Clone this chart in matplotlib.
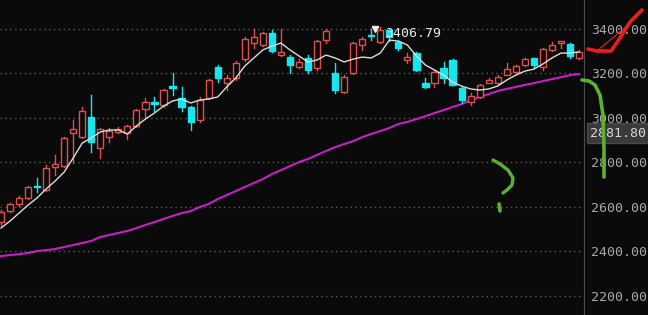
import matplotlib
matplotlib.use('Agg')
import matplotlib.pyplot as plt
import matplotlib.transforms as mtransforms
from matplotlib.patches import Rectangle

# daily candles
opens = [2532, 2581, 2613, 2640, 2695, 2675, 2778, 2783, 2931, 2913,
         3003, 2864, 2913, 2936, 2931, 2963, 3039, 3070, 3057, 3140,
         3088, 3048, 2990, 3088, 3227, 3155, 3178, 3263, 3335, 3326,
         3380, 3281, 3272, 3227, 3268, 3223, 3348, 3200, 3115, 3200,
         3326, 3373, 3340, 3393, 3340, 3259, 3290, 3155, 3155, 3223,
         3259, 3133, 3070, 3093, 3155, 3155, 3191, 3205, 3236, 3268,
         3227, 3304, 3335, 3330, 3268]
closes = [2577, 2613, 2640, 2689, 2691, 2774, 2792, 2909, 2949, 3030,
          2891, 2949, 2940, 2949, 2963, 3034, 3070, 3060, 3124, 3134,
          3048, 2981, 3079, 3169, 3178, 3178, 3245, 3353, 3362, 3380,
          3299, 3295, 3236, 3250, 3214, 3344, 3389, 3124, 3182, 3335,
          3353, 3368, 3393, 3362, 3313, 3272, 3214, 3138, 3205, 3178,
          3147, 3079, 3097, 3147, 3169, 3182, 3218, 3232, 3263, 3236,
          3308, 3326, 3344, 3277, 3295]
highs = [2586, 2618, 2649, 2693, 2729, 2787, 2832, 2913, 2990, 3048,
         3102, 2953, 2954, 2960, 2968, 3039, 3088, 3093, 3130, 3200,
         3138, 3052, 3093, 3175, 3236, 3191, 3255, 3360, 3400, 3385,
         3393, 3400, 3281, 3265, 3281, 3350, 3400, 3245, 3190, 3340,
         3362, 3398, 3406.79, 3398, 3345, 3290, 3295, 3178, 3214, 3250,
         3263, 3138, 3110, 3150, 3178, 3191, 3245, 3236, 3268, 3270,
         3312, 3340, 3346, 3335, 3304]
lows = [2518, 2577, 2604, 2636, 2666, 2670, 2743, 2780, 2797, 2909,
        2846, 2819, 2891, 2930, 2904, 2958, 3003, 3030, 3050, 3102,
        3030, 2945, 2981, 3084, 3160, 3124, 3170, 3255, 3313, 3322,
        3295, 3278, 3200, 3223, 3200, 3215, 3335, 3111, 3110, 3195,
        3304, 3350, 3335, 3344, 3305, 3245, 3210, 3133, 3138, 3155,
        3145, 3066, 3057, 3088, 3155, 3152, 3190, 3200, 3232, 3225,
        3214, 3300, 3313, 3270, 3265]

# moving averages as drawn
ma_short = [2505, 2536, 2572, 2608, 2640, 2680, 2716, 2756, 2819, 2886,
            2909, 2936, 2945, 2945, 2927, 2963, 2994, 3021, 3052, 3075,
            3084, 3066, 3079, 3084, 3093, 3138, 3178, 3232, 3268, 3304,
            3321, 3335, 3304, 3277, 3250, 3259, 3281, 3268, 3250, 3263,
            3272, 3268, 3290, 3348, 3344, 3326, 3277, 3236, 3214, 3191,
            3160, 3142, 3129, 3124, 3129, 3142, 3169, 3191, 3209, 3218,
            3241, 3268, 3290, 3290, 3295]
ma_long = [2379, 2384, 2388, 2393, 2402, 2406, 2411, 2420, 2429, 2438,
           2447, 2465, 2474, 2483, 2492, 2505, 2519, 2532, 2546, 2559,
           2572, 2581, 2599, 2613, 2635, 2653, 2671, 2689, 2707, 2725,
           2747, 2765, 2783, 2801, 2815, 2833, 2851, 2868, 2882, 2895,
           2913, 2927, 2940, 2954, 2972, 2981, 2994, 3007, 3021, 3034,
           3048, 3061, 3079, 3093, 3106, 3120, 3129, 3138, 3147, 3155,
           3164, 3173, 3182, 3191, 3196]

price_ticks = [2200, 2400, 2600, 2800, 3000, 3200, 3400]
last_label = '2881.80'
high_label = '3406.79'

# freehand pen marks on the screenshot, in pixel coords
red_check_x = [588, 597, 611, 620, 630, 642]
red_check_y = [49, 51, 51, 38, 22, 10]
red_thin_x = [598, 615, 628]
red_thin_y = [50, 36, 25]
green_hook_x = [582, 589, 595, 600, 603, 604, 604]
green_hook_y = [80, 81, 85, 95, 115, 150, 177]
green_q_x = [493, 500, 508, 513, 512, 507, 503]
green_q_y = [160, 164, 170, 178, 185, 190, 193]
green_dot_x = [499, 500]
green_dot_y = [204, 211]

BG = '#0a0a0a'
UP = '#e0514b'
DOWN = '#16e6ee'

fig = plt.figure(figsize=(6.48, 3.15), dpi=100, facecolor=BG)
ax = fig.add_axes([0, 0, 584 / 648, 1], facecolor=BG)

n = len(opens)
w = 0.68
for i in range(n):
    o, c, h, l = opens[i], closes[i], highs[i], lows[i]
    top, bot = max(o, c), min(o, c)
    if c >= o:
        ax.plot([i, i], [top, h], color=UP, lw=1, zorder=3)
        ax.plot([i, i], [l, bot], color=UP, lw=1, zorder=3)
        ax.add_patch(Rectangle((i - w / 2, bot), w, max(top - bot, 3),
                               facecolor=BG, edgecolor=UP, lw=1, zorder=3))
    else:
        ax.plot([i, i], [l, h], color=DOWN, lw=1, zorder=3)
        ax.add_patch(Rectangle((i - w / 2, bot), w, max(top - bot, 3),
                               facecolor=DOWN, edgecolor=DOWN, lw=1, zorder=3))

x = list(range(n))
ax.plot(x, ma_short, color='#dcdcdc', lw=1, zorder=4)
ax.plot(x, ma_long, color='#c81ec8', lw=1.5, zorder=2)

# high marker
hi = highs.index(max(highs))
ax.plot([hi - 0.9, hi - 0.2], [highs[hi] - 2, highs[hi] - 2], color='#eeeeee', lw=1, zorder=5)
ax.plot([hi - 0.55], [highs[hi] - 8], marker='v', color='#eeeeee', ms=4, zorder=5)
ax.text(hi + 0.5, highs[hi] - 30, high_label, color='#e8e8e8', fontsize=9.5,
        family='DejaVu Sans Mono', va='center', ha='left', zorder=5)

ax.set_xlim(-0.1, n - 1 + 0.55)
ax.set_ylim(2115, 3528)

ax.set_yticks(price_ticks)
ax.yaxis.tick_right()
ax.set_yticklabels(['%.2f' % t for t in price_ticks])
ax.tick_params(axis='y', length=0, pad=5, labelcolor='#a8a8a8', labelsize=9.5)
for lab in ax.get_yticklabels():
    lab.set_family('DejaVu Sans Mono')
ax.set_xticks([])
ax.grid(axis='y', color='#5e5e5e', linestyle=(0, (1, 2.5)), lw=1)
for side in ['top', 'left', 'bottom']:
    ax.spines[side].set_visible(False)
ax.spines['right'].set_color('#4a4a4a')

trans = mtransforms.blended_transform_factory(ax.transAxes, ax.transData)
ax.text(1.01, 2931, last_label, transform=trans, color='#d8d8d8', fontsize=9.5,
        family='DejaVu Sans Mono', va='center', ha='left', clip_on=False,
        bbox=dict(boxstyle='square,pad=0.25', facecolor='#3a3a3a', edgecolor='#4a4a4a'))

# overlay for pen marks
ov = fig.add_axes([0, 0, 1, 1], facecolor='none')
ov.set_xlim(0, 648)
ov.set_ylim(315, 0)
ov.axis('off')
ov.plot(red_check_x, red_check_y, color='#ee1c1c', lw=2.6, solid_capstyle='round', solid_joinstyle='round')
ov.plot(red_thin_x, red_thin_y, color='#ee1c1c', lw=0.8)
ov.plot(green_hook_x, green_hook_y, color='#5cb032', lw=2.6, solid_capstyle='round', solid_joinstyle='round')
ov.plot(green_q_x, green_q_y, color='#5cb032', lw=2.4, solid_capstyle='round', solid_joinstyle='round')
ov.plot(green_dot_x, green_dot_y, color='#5cb032', lw=2.6, solid_capstyle='round')

fig.savefig('out.png', dpi=100, facecolor=BG)
